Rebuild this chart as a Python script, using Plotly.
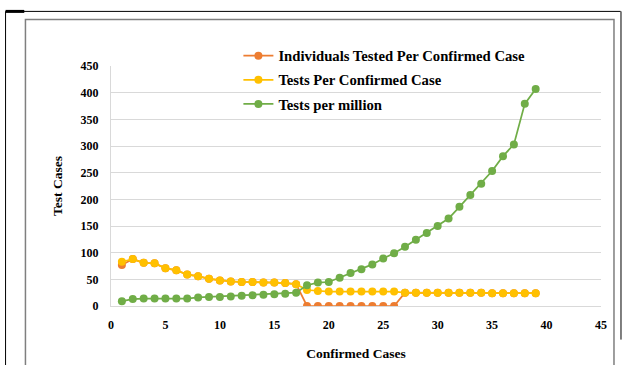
import plotly.graph_objects as go

x_cases = list(range(1, 40))

individuals_tested = [77, 88, 81, 80, 71, 67, 59, 56, 51, 48, 46, 45, 45, 44, 44, 43, 41,
                      0, 0, 0, 0, 0, 0, 0, 0, 0,
                      25, 25, 25, 25, 25, 25, 25, 25, 24, 24, 24, 24, 24]
tests_per_case = [83, 88, 81, 80, 71, 67, 59, 56, 51, 48, 46, 45, 45, 44, 44, 43, 41,
                  30, 28, 27, 27, 27, 27, 27, 27, 27,
                  25, 25, 25, 25, 25, 25, 25, 25, 24, 24, 24, 24, 24]
tests_per_million = [9, 13, 14, 14, 14, 14, 14, 16, 17, 17, 18, 19, 20, 21, 22, 23, 25,
                     39, 44, 45, 53, 62, 69, 78, 89, 99, 111, 124, 137, 150, 164, 186,
                     208, 229, 253, 281, 303, 379, 407]

series = [
    ("Individuals Tested Per Confirmed Case", individuals_tested, "#ED7D31"),
    ("Tests Per Confirmed Case", tests_per_case, "#FFC000"),
    ("Tests per million", tests_per_million, "#70AD47"),
]

font_family = "Liberation Serif"

fig = go.Figure()
for i, (name, vals, color) in enumerate(series):
    fig.add_trace(go.Scatter(
        x=x_cases, y=vals, name=name, mode="lines+markers",
        line=dict(color=color, width=1.75),
        marker=dict(color=color, size=8),
        legendgroup=f"g{i}",
    ))

fig.update_layout(
    width=626, height=365,
    margin=dict(l=111, r=25, t=66, b=59),
    paper_bgcolor="white", plot_bgcolor="white",
    font=dict(family=font_family, size=12, color="#000000"),
    showlegend=True,
    legend=dict(
        x=0.26, y=1.11, xanchor="left", yanchor="top",
        bgcolor="rgba(0,0,0,0)", tracegroupgap=2,
        font=dict(family=font_family, size=14.7, color="#000000", weight="bold"),
    ),
    xaxis=dict(
        range=[0, 45], dtick=5, tick0=0, automargin=False,
        showgrid=False, zeroline=False,
        showline=True, linecolor="#D9D9D9", linewidth=1,
        ticks="", ticklabelstandoff=8,
        tickfont=dict(family=font_family, size=12, weight="bold"),
        title=dict(text="Confirmed Cases", standoff=17,
                   font=dict(family=font_family, size=13.5, weight="bold")),
    ),
    yaxis=dict(
        range=[0, 450], dtick=50, tick0=0, automargin=False,
        showgrid=True, gridcolor="#D9D9D9", gridwidth=1,
        zeroline=False, showline=True, linecolor="#D9D9D9", linewidth=1,
        ticks="", ticklabelstandoff=9,
        tickfont=dict(family=font_family, size=12, weight="bold"),
        title=dict(text="Test Cases", standoff=14,
                   font=dict(family=font_family, size=13.5, weight="bold")),
    ),
    shapes=[
        # inner chart-area border
        dict(type="rect", xref="paper", yref="paper",
             x0=-0.1746, x1=1.0265, y0=-0.26, y1=1.194,
             line=dict(color="#7F7F7F", width=1.5), layer="below"),
        # outer black frame lines
        dict(type="line", xref="paper", yref="paper",
             x0=-0.2152, x1=1.04, y0=1.2275, y1=1.2275,
             line=dict(color="#000000", width=1)),
        dict(type="line", xref="paper", yref="paper",
             x0=-0.2152, x1=-0.177, y0=1.2275, y1=1.2275,
             line=dict(color="#000000", width=3)),
        dict(type="line", xref="paper", yref="paper",
             x0=-0.2152, x1=-0.2152, y0=1.2275, y1=-0.26,
             line=dict(color="#000000", width=1)),
        dict(type="line", xref="paper", yref="paper",
             x0=1.0408, x1=1.0408, y0=1.2275, y1=-0.14,
             line=dict(color="#000000", width=1)),
    ],
)

fig.write_html(
    "out.html",
    config={"displayModeBar": False},
    post_script="document.body.style.margin='0';document.body.style.overflow='hidden';",
)
